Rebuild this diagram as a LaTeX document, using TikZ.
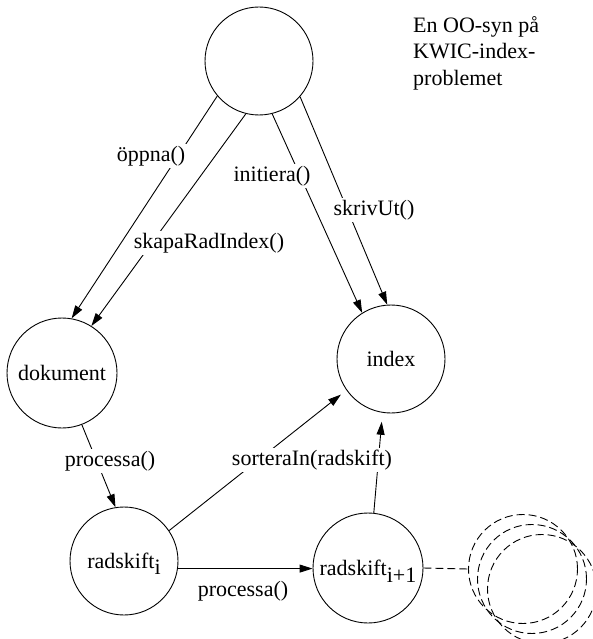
\documentclass[tikz,border=0pt]{standalone}
\usepackage{fontspec}
\setmainfont{Liberation Serif}
\usetikzlibrary{arrows.meta}
\begin{document}
\begin{tikzpicture}[x=1pt,y=-1pt,
  every node/.style={font=\fontsize{22}{26.7}\selectfont},
  obj/.style={circle, draw, line width=0.9pt, minimum size=108pt, inner sep=1pt},
  ghost/.style={circle, draw, line width=0.9pt, dash pattern=on 8pt off 4pt, minimum size=109pt},
  msg/.style={fill=white, inner sep=2pt},
  link/.style={line width=0.9pt},
  call/.style={link, -{Triangle[length=13pt,width=8pt]}},
]
\useasboundingbox (0,0) rectangle (593,639);
\clip (0,0) rectangle (593,639);

% objects
\node[obj] (top) at (259,61) {};
\node[obj, minimum size=110pt] (dok) at (62,373) {dokument};
\node[obj] (idx) at (391,359) {index};
\node[obj] (radi) at (124,561) {radskift\smash{\raisebox{-6pt}{i}}};
\node[obj, minimum size=110pt] (radj) at (368,568) {radskift\smash{\raisebox{-7pt}{i+1}}};

% further line-break objects
\node[ghost] (nxa) at (523,569) {};
\node[ghost] (nxb) at (532,579) {};
\node[ghost] (nxc) at (542,589) {};

% messages
\draw[call] (top.220.5) -- (dok.80);
\draw[call] (top.256.5) -- (dok.58.5);
\draw[call] (top.284.5) -- (idx.122);
\draw[call] (top.319.4) -- (idx.94);
\draw[call] (dok.-69) -- (radi.99.5);
\draw[call, shorten >=7pt] (radi.34.5) -- (idx.215);
\draw[call, shorten >=9pt] (radj.84.6) -- (idx.261);
\draw[call] (radi.-8.4) -- (radi.-8.4 -| radj.west);
\draw[link, dash pattern=on 8pt off 4pt] (radj.east) -- (nxa.west);

% message labels
\node[msg] (l1) at (151,156) {öppna()};
\node[msg] (l2) at (209,243) {skapaRadIndex()};
\node[msg] (l3) at (272,176) {initiera()};
\node[msg] (l4) at (374,210) {skrivUt()};
\node[msg] (l5) at (110,461) {processa()};
\node[msg] (l6) at (312,460) {sorteraIn(radskift)};
\node[msg] (l7) at (243,591) {processa()};

% caption
\node[anchor=north west, align=left, inner sep=0pt] (title) at (413,16)
  {En OO-syn på\\KWIC-index-\\problemet};
\end{tikzpicture}
\end{document}
